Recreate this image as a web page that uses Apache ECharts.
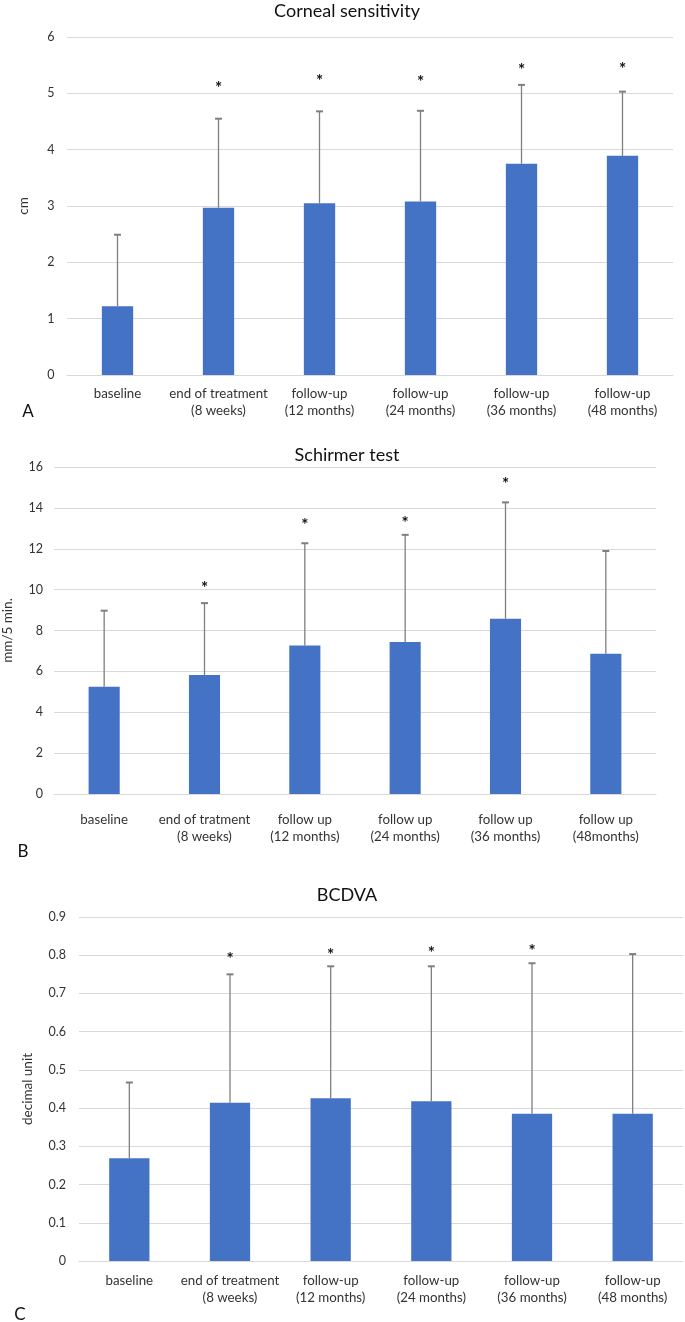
<!DOCTYPE html>
<html><head><meta charset="utf-8">
<script src="https://cdn.jsdelivr.net/npm/echarts@6/dist/echarts.min.js"></script>
<style>html,body{margin:0;padding:0;background:#fff}#c{width:685px;height:1322px}</style>
</head><body><div id="c"></div>
<script>
// ---- Data ----
const catsA = ['baseline', 'end of treatment\n(8 weeks)', 'follow-up\n(12 months)', 'follow-up\n(24 months)', 'follow-up\n(36 months)', 'follow-up\n(48 months)'];
const meanA = [1.22, 2.97, 3.05, 3.08, 3.75, 3.89];
const sdA   = [1.27, 1.58, 1.63, 1.61, 1.40, 1.14];
const starA = [null, 5.14, 5.26, 5.24, 5.45, 5.48];
const ticksA = {min: 0, max: 6, interval: 1};

const catsB = ['baseline', 'end of tratment\n(8 weeks)', 'follow up\n(12 months)', 'follow up\n(24 months)', 'follow up\n(36 months)', 'follow up\n(48months)'];
const meanB = [5.25, 5.82, 7.27, 7.44, 8.58, 6.86];
const sdB   = [3.72, 3.52, 5.00, 5.24, 5.69, 5.03];
const starB = [null, 10.2, 13.28, 13.36, 15.27, null];
const ticksB = {min: 0, max: 16, interval: 2};

const catsC = ['baseline', 'end of treatment\n(8 weeks)', 'follow-up\n(12 months)', 'follow-up\n(24 months)', 'follow-up\n(36 months)', 'follow-up\n(48 months)'];
const meanC = [0.269, 0.414, 0.426, 0.418, 0.385, 0.385];
const sdC   = [0.198, 0.336, 0.345, 0.353, 0.394, 0.418];
const starC = [null, 0.796, 0.806, 0.812, 0.817, null];
const ticksC = {min: 0, max: 0.9, interval: 0.1};

const titles = ['Corneal sensitivity', 'Schirmer test', 'BCDVA'];
const yNames = ['cm', 'mm/5 min.', 'decimal unit'];
const panels = ['A', 'B', 'C'];

// ---- Style ----
const FONT = 'Lato, "Noto Sans", sans-serif';
const BAR = '#4472C4';
const GRID = '#D9D9D9';
const ERR = '#7F7F7F';
const TXT = '#333333';

const grids = [
  {left: 67, right: 12, top: 37, height: 338, outerBoundsMode: 'none', containLabel: false},
  {left: 54, right: 29, top: 467, height: 327, outerBoundsMode: 'none', containLabel: false},
  {left: 79, right: 2, top: 917, height: 344, outerBoundsMode: 'none', containLabel: false}
];
const barWidths = ['31%', '31%', '40%'];
const labelMargins = [10, 17, 11.5];
const yLabelMargins = [12.5, 11, 13];
const nameGaps = [36, 39, 44];
const titlePos = [[347, 11], [347, 455], [347, 895]];
const panelPos = [[28, 412], [23, 852], [20, 1315]];

const cats = [catsA, catsB, catsC];
const means = [meanA, meanB, meanC];
const sds = [sdA, sdB, sdC];
const stars = [starA, starB, starC];
const ticks = [ticksA, ticksB, ticksC];

const xAxes = [], yAxes = [], series = [], graphics = [];
for (let k = 0; k < 3; k++) {
  xAxes.push({
    type: 'category', gridIndex: k, data: cats[k],
    axisLine: {show: true, lineStyle: {color: GRID, width: 1}},
    axisTick: {show: false},
    axisLabel: {interval: 0, color: TXT, fontFamily: FONT, fontSize: 13.3, lineHeight: 17, margin: labelMargins[k]}
  });
  yAxes.push({
    type: 'value', gridIndex: k, min: ticks[k].min, max: ticks[k].max, interval: ticks[k].interval,
    axisLine: {show: false}, axisTick: {show: false},
    splitLine: {lineStyle: {color: GRID, width: 1}},
    axisLabel: {color: TXT, fontFamily: FONT, fontSize: 12.5, margin: yLabelMargins[k]},
    name: yNames[k], nameLocation: 'middle', nameGap: nameGaps[k],
    nameTextStyle: {color: TXT, fontFamily: FONT, fontSize: 13.5}
  });
  series.push({
    type: 'bar', xAxisIndex: k, yAxisIndex: k, data: means[k], barWidth: barWidths[k],
    itemStyle: {color: BAR}, z: 2, silent: true
  });
  series.push({
    type: 'custom', xAxisIndex: k, yAxisIndex: k, z: 3, silent: true,
    data: means[k].map((m, i) => [i, m, sds[k][i]]),
    encode: {x: 0, y: 1},
    renderItem: function (params, api) {
      const i = api.value(0), m = api.value(1), s = api.value(2);
      const p0 = api.coord([i, m]);
      const p1 = api.coord([i, m + s]);
      return {type: 'group', children: [
        {type: 'line', shape: {x1: p0[0], y1: p0[1], x2: p1[0], y2: p1[1]}, style: {stroke: ERR, lineWidth: 1.3}},
        {type: 'line', shape: {x1: p1[0] - 3.5, y1: p1[1], x2: p1[0] + 3.5, y2: p1[1]}, style: {stroke: ERR, lineWidth: 2}}
      ]};
    }
  });
  series.push({
    type: 'custom', xAxisIndex: k, yAxisIndex: k, z: 4, silent: true,
    data: stars[k].map((v, i) => v == null ? null : [i, v]).filter(d => d),
    encode: {x: 0, y: 1},
    renderItem: function (params, api) {
      const p = api.coord([api.value(0), api.value(1)]);
      return {type: 'text', x: p[0], y: p[1] + 3, style: {text: '*', fill: '#111', font: 'bold 17px ' + FONT, align: 'center', verticalAlign: 'middle'}};
    }
  });
  graphics.push({type: 'text', x: titlePos[k][0], y: titlePos[k][1], style: {text: titles[k], fill: '#111', font: '18px ' + FONT, align: 'center', verticalAlign: 'middle'}});
  graphics.push({type: 'text', x: panelPos[k][0], y: panelPos[k][1], style: {text: panels[k], fill: '#111', font: '17px ' + FONT, align: 'center', verticalAlign: 'middle'}});
}

const chart = echarts.init(document.getElementById('c'), null, {renderer: 'canvas'});
chart.setOption({
  animation: false,
  backgroundColor: '#fff',
  grid: grids,
  xAxis: xAxes,
  yAxis: yAxes,
  series: series,
  graphic: graphics
});
</script>
</body></html>
